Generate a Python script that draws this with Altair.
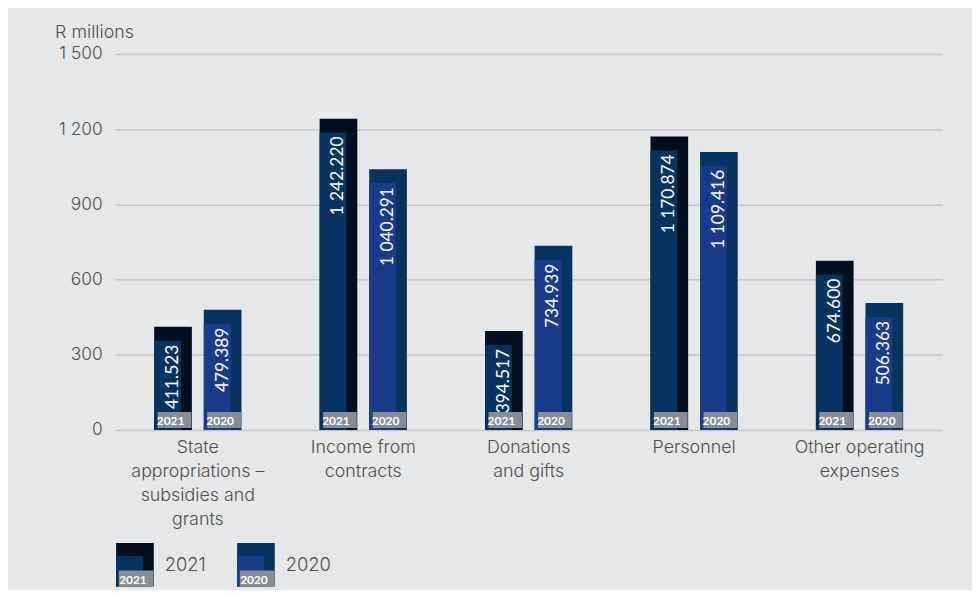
import altair as alt
import pandas as pd

# ---- data -------------------------------------------------------------
categories = [
    "State|appropriations –|subsidies and|grants",
    "Income from|contracts",
    "Donations|and gifts",
    "Personnel",
    "Other operating|expenses",
]
years = ["2021", "2020"]
values_2021 = [411.523, 1242.220, 394.517, 1170.874, 674.600]
values_2020 = [479.389, 1040.291, 734.939, 1109.416, 506.363]
y_ticks = [0, 300, 600, 900, 1200, 1500]

series = {"2021": values_2021, "2020": values_2020}
rows = []
for yr in years:
    for c, v in zip(categories, series[yr]):
        rows.append({"cat": c, "year": yr, "value": v,
                     "label": f"{v:,.3f}".replace(",", " ")})
df = pd.DataFrame(rows)
legend_df = pd.DataFrame({"year": years})

# ---- style ------------------------------------------------------------
FONT = "Inter"
NUMFONT = "Lato"
BG = "#e6e7e9"
TAG = "#878d94"
TXT = "#505050"
STY = {
    "2021": dict(off=-25, outer="#030f21", inner="#06335f"),
    "2020": dict(off=25, outer="#06335f", inner="#1a3b8a"),
}
W, H = 834, 379
TAG_PATH = "M-1,-0.47L1,-0.47L1,0.47L-1,0.47Z"

x_axis = alt.Axis(title=None, labelAngle=0, domain=False, ticks=False,
                  labelExpr="split(datum.label, '|')", labelLineHeight=24,
                  labelFont=FONT, labelFontSize=18, labelFontWeight=300,
                  labelColor=TXT, labelPadding=9)
y_axis = alt.Axis(values=y_ticks, domain=False, ticks=False,
                  labelExpr="replace(format(datum.value, ','), ',', ' ')",
                  labelPadding=13, labelFont=FONT, labelFontSize=17.5,
                  labelFontWeight=300, labelColor=TXT,
                  gridColor="#c4c6c9", gridWidth=1.5,
                  title="R millions", titleAngle=0, titleAlign="left",
                  titleBaseline="alphabetic", titleX=-61, titleY=-17,
                  titleFont=FONT, titleFontSize=18, titleFontWeight=300,
                  titleColor=TXT)

x_enc = alt.X("cat:N", sort=categories,
              scale=alt.Scale(paddingInner=0, paddingOuter=0), axis=x_axis)
y_enc = alt.Y("value:Q", scale=alt.Scale(domain=[0, 1500], nice=False),
              axis=y_axis)

main_layers = []
for yr in years:
    s = STY[yr]
    b = alt.Chart(df).transform_filter(alt.datum.year == yr)
    main_layers.append(
        b.mark_bar(width=38, xOffset=s["off"], color=s["outer"])
        .encode(x=x_enc, y=y_enc, y2=alt.Y2Datum(0)))
    main_layers.append(
        b.mark_bar(width=27, xOffset=s["off"] - 5.5, yOffset=14, color=s["inner"])
        .encode(x=x_enc, y=y_enc, y2=alt.Y2Datum(0)))
    main_layers.append(
        b.mark_text(angle=270, align="right", baseline="middle", dx=-18,
                    dy=s["off"], color="white", font=NUMFONT, fontSize=17.5)
        .encode(x=x_enc, y=y_enc, text="label:N"))
    main_layers.append(
        b.mark_point(shape=TAG_PATH, size=1156, filled=True, color=TAG,
                     opacity=1, strokeWidth=0, xOffset=s["off"] + 1.5, yOffset=-10)
        .encode(x=x_enc, y=alt.YDatum(0)))
    main_layers.append(
        b.mark_text(align="center", baseline="alphabetic", dx=s["off"] - 2.5,
                    dy=-4.5, color="white", font=NUMFONT, fontSize=12,
                    fontWeight="bold")
        .encode(x=x_enc, y=alt.YDatum(0), text="year:N"))

main = alt.layer(*main_layers)

lx = alt.X("year:N", sort=years,
           scale=alt.Scale(type="point", range=[20, 142], padding=0), axis=None)
lscale = alt.Scale(domain=[0, 1], range=[H + 158, H + 114])


def ly(v):
    return alt.YDatum(v, scale=lscale, axis=None)


legend_layers = []
for yr in years:
    s = STY[yr]
    b = alt.Chart(legend_df).transform_filter(alt.datum.year == yr)
    legend_layers.append(
        b.mark_bar(width=38, color=s["outer"])
        .encode(x=lx, y=ly(1), y2=alt.Y2Datum(0)))
    legend_layers.append(
        b.mark_bar(width=27, xOffset=-5.5, yOffset=13, color=s["inner"])
        .encode(x=lx, y=ly(1), y2=alt.Y2Datum(0)))
    legend_layers.append(
        b.mark_point(shape=TAG_PATH, size=1225, filled=True, color=TAG,
                     opacity=1, strokeWidth=0, xOffset=1.2, yOffset=-8)
        .encode(x=lx, y=ly(0)))
    legend_layers.append(
        b.mark_text(align="center", baseline="alphabetic", dx=-2, dy=-3,
                    color="white", font=NUMFONT, fontSize=12, fontWeight="bold")
        .encode(x=lx, y=ly(0), text="year:N"))
    legend_layers.append(
        b.mark_text(align="left", baseline="middle", dx=30, color=TXT,
                    font=FONT, fontSize=18.5, fontWeight=300)
        .encode(x=lx, y=ly(0.5), text="year:N"))

legend = alt.layer(*legend_layers)

chart = (
    alt.layer(main, legend)
    .resolve_scale(x="independent", y="independent")
    .properties(width=W, height=H,
                padding={"left": 47, "top": 13, "right": 30, "bottom": 0},
                background=BG)
    .configure_view(stroke=None)
)

chart.save("out.html", embed_options={"renderer": "svg", "actions": False})
